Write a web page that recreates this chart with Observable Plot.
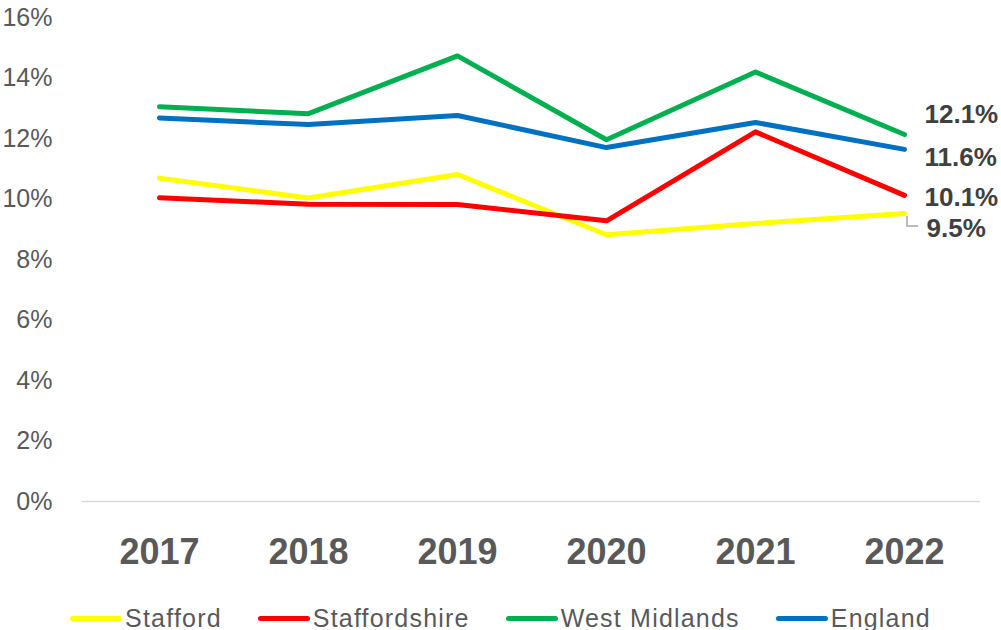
<!DOCTYPE html>
<html>
<head>
<meta charset="utf-8">
<script src="https://cdn.jsdelivr.net/npm/d3@7"></script>
<script src="https://cdn.jsdelivr.net/npm/@observablehq/plot@0.6"></script>
<style>
  html, body { margin: 0; padding: 0; background: #fff; }
  body { width: 1001px; height: 630px; overflow: hidden; font-family: "Liberation Sans", Arial, sans-serif; }
  #legend { display: flex; justify-content: center; align-items: center; height: 30px; gap: 36px; font-size: 25px; letter-spacing: 1.2px; color: #595959; }
  .item { display: flex; align-items: center; }
  .sw { width: 52px; height: 5px; border-radius: 3px; margin-right: 3px; }
</style>
</head>
<body>
<div id="chart"></div>
<div id="legend"></div>
<script>
const years = ["2017", "2018", "2019", "2020", "2021", "2022"];
const seriesNames = ["Stafford", "Staffordshire", "West Midlands", "England"];
const seriesColors = ["#FFFF00", "#FF0000", "#00B050", "#0070C0"];
const stafford      = [0.1069, 0.1003, 0.1081, 0.0882, 0.0919, 0.0952];
const staffordshire = [0.1004, 0.0983, 0.0982, 0.0928, 0.1222, 0.1012];
const westMidlands  = [0.1305, 0.1282, 0.1473, 0.1196, 0.1420, 0.1213];
const england       = [0.1268, 0.1246, 0.1276, 0.1170, 0.1253, 0.1164];
const yTicks = [0, 0.02, 0.04, 0.06, 0.08, 0.10, 0.12, 0.14, 0.16];

const valueArrays = [stafford, staffordshire, westMidlands, england];
const data = [];
seriesNames.forEach((s, i) => years.forEach((y, j) => data.push({series: s, year: y, value: valueArrays[i][j]})));
const last = data.filter(d => d.year === years[years.length - 1]);

// label vertical nudges (pixels), as Excel placed them to avoid overlap
const labelDy = {"West Midlands": -20, "England": 8, "Staffordshire": 2, "Stafford": 15};
const labelDx = {"West Midlands": 20, "England": 20, "Staffordshire": 20, "Stafford": 22};

const leader = (index, scales) => {
  const d = last.find(r => r.series === "Stafford");
  const x0 = scales.x(d.year) + 3, y0 = scales.y(d.value) + 3;
  const p = document.createElementNS("http://www.w3.org/2000/svg", "path");
  p.setAttribute("d", `M${x0},${y0}V${y0 + 10}H${x0 + 11}`);
  p.setAttribute("fill", "none");
  p.setAttribute("stroke", "#a6a6a6");
  p.setAttribute("stroke-width", "1.5");
  return p;
};

const chart = Plot.plot({
  width: 1001,
  height: 603,
  marginTop: 17,
  marginBottom: 102,
  marginLeft: 82,
  marginRight: 21,
  style: {fontFamily: "Liberation Sans, Arial, sans-serif", background: "#fff"},
  x: {type: "point", domain: years, padding: 0.5, label: null},
  y: {domain: [0, 0.16], label: null},
  color: {domain: seriesNames, range: seriesColors},
  marks: [
    Plot.ruleY([0], {stroke: "#d9d9d9", strokeWidth: 1.5}),
    Plot.axisY({ticks: yTicks, tickFormat: d3.format(".0%"), tickSize: 0, tickPadding: 30, fontSize: 25, color: "#595959", label: null}),
    Plot.axisX({tickSize: 0, tickPadding: 37, fontSize: 36, fontWeight: "bold", color: "#595959", label: null}),
    Plot.line(data, {x: "year", y: "value", z: "series", stroke: "series", strokeWidth: 5, strokeLinecap: "round", strokeLinejoin: "round"}),
    leader,
    ...last.map(d => Plot.text([d], {x: "year", y: "value", text: r => d3.format(".1%")(r.value), textAnchor: "start", dx: labelDx[d.series], dy: labelDy[d.series], fontSize: 26, fontWeight: "bold", fill: "#404040"}))
  ]
});
document.getElementById("chart").appendChild(chart);

const legend = document.getElementById("legend");
seriesNames.forEach((s, i) => {
  const it = document.createElement("div");
  it.className = "item";
  it.innerHTML = `<div class="sw" style="background:${seriesColors[i]}"></div><span>${s}</span>`;
  legend.appendChild(it);
});
</script>
</body>
</html>
